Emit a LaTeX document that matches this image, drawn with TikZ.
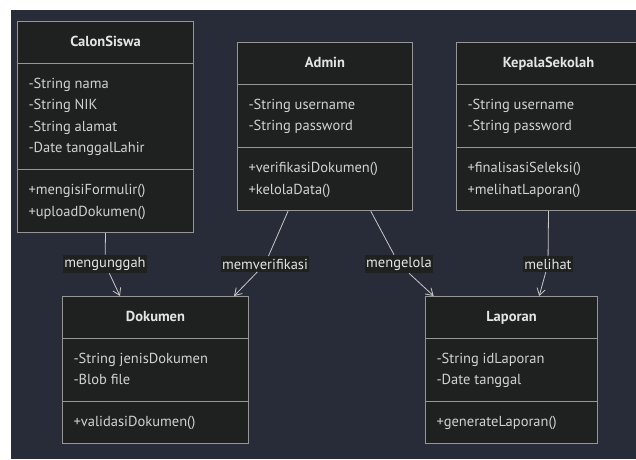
\documentclass[tikz,border=0pt]{standalone}
\usepackage{fontspec}
\setmainfont{PT Sans}
\usetikzlibrary{shapes.multipart}
\usetikzlibrary{arrows.meta}
\usetikzlibrary{calc}

\definecolor{canvas}{RGB}{40,44,56}
\definecolor{boxfill}{RGB}{31,32,32}
\definecolor{boxline}{RGB}{150,150,150}
\definecolor{attrtext}{RGB}{210,210,210}
\definecolor{titletext}{RGB}{228,228,228}
\definecolor{edgeline}{RGB}{200,200,200}

\newcommand{\umlfont}{\fontsize{14.5}{21.5}\selectfont}

\tikzset{
  umlclass/.style={rectangle split, rectangle split parts=3, draw=boxline, fill=boxfill,
    text=attrtext, anchor=north west, inner xsep=11pt, inner ysep=9.6pt,
    rectangle split part align={center,left,left}, align=left, font=\umlfont, line width=1pt},
  umllabel/.style={fill=boxfill, text=titletext, inner xsep=1.5pt, inner ysep=2.5pt, font=\umlfont},
  assoc/.style={draw=edgeline, line width=0.8pt, -{Straight Barb[length=2.4mm,width=3mm]}},
}

\begin{document}
\begin{tikzpicture}[x=1pt,y=-1pt]
		\useasboundingbox (0,0) rectangle (636,459);
		\fill[white] (0,0) rectangle (636,459);
		\fill[canvas] (11,10) rectangle (636,459);
		\begin{scope}
		\clip (0,0) rectangle (636,459);
		% classes
		\node[umlclass, minimum width=176pt] (calon) at (17,21)
			{\strut\textbf{\color{titletext}CalonSiswa}
			\nodepart{two}\strut-String nama\\\strut-String NIK\\\strut-String alamat\\\strut-Date tanggalLahir
			\nodepart{three}\strut+mengisiFormulir()\\\strut+uploadDokumen()};
		\node[umlclass, minimum width=175pt] (admin) at (237,42)
			{\strut\textbf{\color{titletext}Admin}
			\nodepart{two}\strut-String username\\\strut-String password
			\nodepart{three}\strut+verifikasiDokumen()\\\strut+kelolaData()};
		\node[umlclass, minimum width=184pt] (kepala) at (456,42)
			{\strut\textbf{\color{titletext}KepalaSekolah}
			\nodepart{two}\strut-String username\\\strut-String password
			\nodepart{three}\strut+finalisasiSeleksi()\\\strut+melihatLaporan()};
		\node[umlclass, minimum width=186pt] (dok) at (62,296)
			{\strut\textbf{\color{titletext}Dokumen}
			\nodepart{two}\strut-String jenisDokumen\\\strut-Blob file
			\nodepart{three}\strut+validasiDokumen()};
		\node[umlclass, minimum width=172pt] (lap) at (425,296)
			{\strut\textbf{\color{titletext}Laporan}
			\nodepart{two}\strut-String idLaporan\\\strut-Date tanggal
			\nodepart{three}\strut+generateLaporan()};
		% labels
		\node[umllabel] (lblUnggah) at (105,264) {mengunggah};
		\node[umllabel] (lblVerif) at (265,264) {memverifikasi};
		\node[umllabel] (lblKelola) at (399,264) {mengelola};
		\node[umllabel] (lblLihat) at (548,264) {melihat};
		% associations
		\draw[assoc] (calon.south) -- (lblUnggah) -- ($(dok.north west)!0.31!(dok.north east)$);
		\draw[assoc] ($(admin.south west)!0.29!(admin.south east)$) -- (lblVerif) -- ($(dok.north west)!0.92!(dok.north east)$);
		\draw[assoc] ($(admin.south west)!0.76!(admin.south east)$) -- (lblKelola) -- ($(lap.north west)!0.05!(lap.north east)$);
		\draw[assoc] (kepala.south) -- (lblLihat) -- ($(lap.north west)!0.66!(lap.north east)$);
		\end{scope}
\end{tikzpicture}
\end{document}
